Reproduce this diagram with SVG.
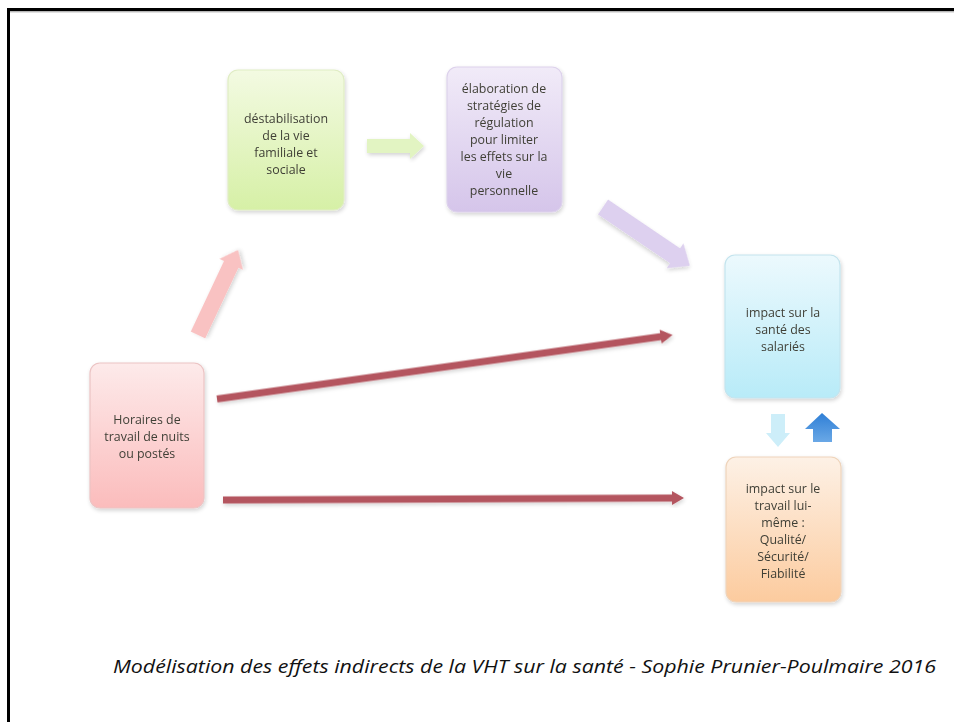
<svg xmlns="http://www.w3.org/2000/svg" width="954" height="722" viewBox="0 0 954 722">
<style>
.t{font-family:"Open Sans","Liberation Sans",sans-serif;font-size:12.4px;text-anchor:middle;fill:#3f3f36}
.cap{font-family:"Open Sans","Liberation Sans",sans-serif;font-size:18px;font-style:italic;fill:#111}
.node{stroke-width:1.2}
</style>
<defs>
<linearGradient id="gG" x1="0" y1="0" x2="0" y2="1"><stop offset="0" stop-color="#f3fae2"/><stop offset="1" stop-color="#d6f0a6"/></linearGradient>
<linearGradient id="gP" x1="0" y1="0" x2="0" y2="1"><stop offset="0" stop-color="#f1ebf8"/><stop offset="1" stop-color="#d5c5ea"/></linearGradient>
<linearGradient id="gB" x1="0" y1="0" x2="0" y2="1"><stop offset="0" stop-color="#ecf9fd"/><stop offset="1" stop-color="#b8ebf8"/></linearGradient>
<linearGradient id="gR" x1="0" y1="0" x2="0" y2="1"><stop offset="0" stop-color="#fdeaea"/><stop offset="1" stop-color="#fbbcbc"/></linearGradient>
<linearGradient id="gO" x1="0" y1="0" x2="0" y2="1"><stop offset="0" stop-color="#fdf1e6"/><stop offset="1" stop-color="#fccb9e"/></linearGradient>
<linearGradient id="aUp" x1="0" y1="0" x2="0" y2="1"><stop offset="0" stop-color="#2f7fd6"/><stop offset="1" stop-color="#6aa8e6"/></linearGradient>
<filter id="sh" x="-10%" y="-10%" width="125%" height="125%"><feGaussianBlur in="SourceAlpha" stdDeviation="2"/><feOffset dx="1" dy="2"/><feComponentTransfer><feFuncA type="linear" slope="0.18"/></feComponentTransfer><feMerge><feMergeNode/><feMergeNode in="SourceGraphic"/></feMerge></filter>
</defs>
<rect width="954" height="722" fill="#fff"/>
<g id="frame">
<line x1="7" y1="9.5" x2="954" y2="9.5" stroke="#000" stroke-width="3"/>
<line x1="10" y1="11.8" x2="954" y2="11.8" stroke="#999" stroke-width="1"/>
<line x1="8.5" y1="8" x2="8.5" y2="722" stroke="#000" stroke-width="3"/>
</g>
<g id="connectors">
<path transform="translate(198,335) rotate(-64.8)" d="M0,-8 L78,-8 L78,-13 L94,0 L78,13 L78,8 L0,8 Z" fill="#f9c2c2" filter="url(#sh)"/>
<path transform="translate(367,146)" d="M0,-7 L43,-7 L43,-13 L57,0 L43,13 L43,7 L0,7 Z" fill="#e2f4c2" filter="url(#sh)"/>
<path transform="translate(603,207) rotate(34.1)" d="M0,-9 L87,-9 L87,-15 L105,0 L87,15 L87,9 L0,9 Z" fill="#ddd0ef" filter="url(#sh)"/>
<path transform="translate(217,399) rotate(-8)" d="M0,-3.5 L448,-3.5 L448,-7 L460,0 L448,7 L448,3.5 L0,3.5 Z" fill="#b4545e" filter="url(#sh)"/>
<path transform="translate(223,500) rotate(-0.25)" d="M0,-3.5 L449,-3.5 L449,-7 L461,0 L449,7 L449,3.5 L0,3.5 Z" fill="#b4545e" filter="url(#sh)"/>
<path transform="translate(778,414) rotate(90)" d="M0,-7 L19,-7 L19,-12 L33,0 L19,12 L19,7 L0,7 Z" fill="#cdeef9"/>
<path d="M813,442 L813,429 L805,429 L822,413 L840,429 L832,429 L832,442 Z" fill="url(#aUp)"/>
</g>
<g id="n_horaires" filter="url(#sh)">
<rect class="node" x="90" y="363" width="114" height="145" rx="10" fill="url(#gR)" stroke="#ecc4c4"/>
<text class="t" x="147" y="424" fill="#5a3e3e">Horaires de</text>
<text class="t" x="147" y="441">travail de nuits</text>
<text class="t" x="147" y="458">ou postés</text>
</g>
<g id="n_destab" filter="url(#sh)">
<rect class="node" x="228" y="70" width="116" height="140" rx="10" fill="url(#gG)" stroke="#e0edc4"/>
<text class="t" x="286" y="123">déstabilisation</text>
<text class="t" x="286" y="140">de la vie</text>
<text class="t" x="286" y="157">familiale et</text>
<text class="t" x="286" y="174">sociale</text>
</g>
<g id="n_elab" filter="url(#sh)">
<rect class="node" x="447" y="67" width="115" height="145" rx="10" fill="url(#gP)" stroke="#ddd2ec"/>
<text class="t" x="504" y="93">élaboration de</text>
<text class="t" x="504" y="110">stratégies de</text>
<text class="t" x="504" y="127">régulation</text>
<text class="t" x="504" y="144">pour limiter</text>
<text class="t" x="504" y="161">les effets sur la</text>
<text class="t" x="504" y="178">vie</text>
<text class="t" x="504" y="195">personnelle</text>
</g>
<g id="n_sante" filter="url(#sh)">
<rect class="node" x="725" y="255" width="115" height="143" rx="10" fill="url(#gB)" stroke="#c4e4ee"/>
<text class="t" x="783" y="317">impact sur la</text>
<text class="t" x="783" y="334">santé des</text>
<text class="t" x="783" y="351">salariés</text>
</g>
<g id="n_travail" filter="url(#sh)">
<rect class="node" x="726" y="457" width="115" height="145" rx="10" fill="url(#gO)" stroke="#efd4bb"/>
<text class="t" x="783" y="493">impact sur le</text>
<text class="t" x="783" y="510">travail lui-</text>
<text class="t" x="783" y="527">même :</text>
<text class="t" x="783" y="544">Qualité/</text>
<text class="t" x="783" y="561">Sécurité/</text>
<text class="t" x="783" y="578">Fiabilité</text>
</g>
<g id="caption">
<text class="cap" x="113" y="673" textLength="823" lengthAdjust="spacingAndGlyphs">Modélisation des effets indirects de la VHT sur la santé - Sophie Prunier-Poulmaire 2016</text>
</g>
</svg>
